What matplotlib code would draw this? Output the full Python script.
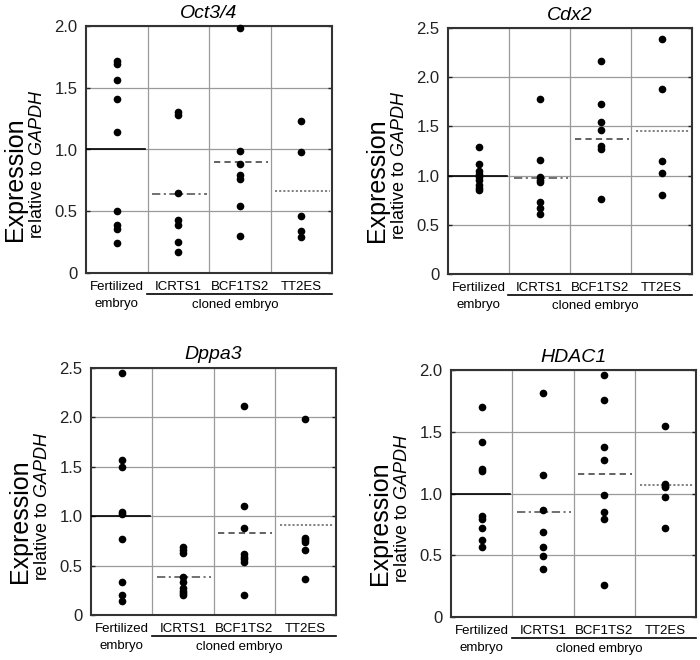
import matplotlib
matplotlib.use("Agg")
import matplotlib.pyplot as plt

plt.rcParams['font.family'] = ['Liberation Sans', 'DejaVu Sans']
plt.rcParams['mathtext.fontset'] = 'custom'
plt.rcParams['mathtext.rm'] = 'Liberation Sans'
plt.rcParams['mathtext.it'] = 'Liberation Sans:italic'
plt.rcParams['lines.scale_dashes'] = False

groups = ['Fertilized', 'ICRTS1', 'BCF1TS2', 'TT2ES']
genes = ['Oct3/4', 'Cdx2', 'Dppa3', 'HDAC1']
ytops = [2.0, 2.5, 2.5, 2.0]

# expression values per group (Fertilized, ICRTS1, BCF1TS2, TT2ES)
oct34 = [
    [1.72, 1.69, 1.56, 1.41, 1.14, 0.50, 0.39, 0.36, 0.24],
    [1.30, 1.28, 0.65, 0.43, 0.39, 0.25, 0.17],
    [1.98, 0.99, 0.88, 0.79, 0.76, 0.54, 0.30],
    [1.23, 0.98, 0.46, 0.34, 0.29],
]
oct34_mean = [1.0, 0.64, 0.90, 0.66]

cdx2 = [
    [1.29, 1.12, 1.05, 1.02, 0.99, 0.96, 0.90, 0.87, 0.85],
    [1.78, 1.16, 0.99, 0.96, 0.93, 0.73, 0.67, 0.61],
    [2.16, 1.73, 1.54, 1.46, 1.30, 1.27, 0.76],
    [2.39, 1.88, 1.15, 1.03, 0.80],
]
cdx2_mean = [1.0, 0.98, 1.37, 1.45]

dppa3 = [
    [2.45, 1.57, 1.50, 1.04, 1.02, 0.77, 0.33, 0.20, 0.14],
    [0.69, 0.66, 0.63, 0.38, 0.33, 0.27, 0.24, 0.22, 0.20],
    [2.12, 1.10, 0.88, 0.62, 0.59, 0.57, 0.54, 0.20],
    [1.98, 0.78, 0.76, 0.74, 0.66, 0.36],
]
dppa3_mean = [1.0, 0.38, 0.83, 0.91]

hdac1 = [
    [1.70, 1.42, 1.20, 1.18, 0.82, 0.79, 0.72, 0.62, 0.57],
    [1.81, 1.15, 0.87, 0.69, 0.57, 0.49, 0.39],
    [1.96, 1.76, 1.38, 1.27, 0.99, 0.85, 0.79, 0.26],
    [1.55, 1.08, 1.06, 1.05, 0.97, 0.72],
]
hdac1_mean = [1.0, 0.85, 1.16, 1.07]

all_vals = [oct34, cdx2, dppa3, hdac1]
all_means = [oct34_mean, cdx2_mean, dppa3_mean, hdac1_mean]

line_styles = [
    dict(color='black', ls='-', lw=1.2),
    dict(color='#666666', ls=(0, (6, 2.5, 1.5, 2.5)), lw=1.3),
    dict(color='#555555', ls=(0, (4.5, 3)), lw=1.3),
    dict(color='#777777', ls=(0, (1.5, 1.5)), lw=1.3),
]

fig = plt.figure(figsize=(7, 6.6), dpi=100)
W, H = 700, 660
boxes = [(86, 273, 246, 247), (448, 274, 244, 246), (91, 615, 245, 247), (451, 617, 245, 247)]

for k in range(4):
    x0, yb, w, h = boxes[k]
    ax = fig.add_axes([x0 / W, 1 - yb / H, w / W, h / H])
    vals = all_vals[k]
    means = all_means[k]
    for i in range(4):
        ax.plot([i] * len(vals[i]), vals[i], 'o', color='black', ms=4.5, clip_on=False, zorder=4)
        lo = -0.5 if i == 0 else i - 0.42
        hi = 0.46 if i == 0 else i + 0.46
        ax.plot([lo, hi], [means[i], means[i]], zorder=3, **line_styles[i])

    ax.set_xlim(-0.5, 3.5)
    ax.set_ylim(0, ytops[k])
    yt = [0, 0.5, 1.0, 1.5, 2.0] + ([2.5] if ytops[k] > 2.2 else [])
    ax.set_yticks(yt)
    ax.set_yticklabels(['0'] + ['%.1f' % v for v in yt[1:]])
    ax.set_xticks([])
    ax.set_xticks([0.5, 1.5, 2.5], minor=True)
    ax.grid(True, axis='y', which='major', color='#9a9a9a', lw=0.9)
    ax.grid(True, axis='x', which='minor', color='#9a9a9a', lw=0.9)
    ax.tick_params(axis='y', direction='in', length=3, width=1, left=True, right=True,
                   labelsize=12, pad=6, colors='#222222')
    ax.tick_params(axis='x', which='minor', length=0)
    for s in ax.spines.values():
        s.set_color('#333333')
        s.set_linewidth(1.5)

    ax.text(0.5, 1 + 13 / h, genes[k], transform=ax.transAxes, ha='center', va='center',
            fontsize=14, style='italic')
    ax.text(-0.29, 0.38, 'Expression', transform=ax.transAxes, rotation=90,
            ha='center', va='center', fontsize=18)
    ax.text(-0.198, 0.44, r'relative to $\it{GAPDH}$', transform=ax.transAxes, rotation=90,
            ha='center', va='center', fontsize=13)

    tr = ax.get_xaxis_transform()
    ax.text(0, -14 / h, groups[0], transform=tr, ha='center', va='center', fontsize=9.5)
    ax.text(0, -31 / h, 'embryo', transform=tr, ha='center', va='center', fontsize=9.5)
    for i in range(1, 4):
        ax.text(i, -14 / h, groups[i], transform=tr, ha='center', va='center', fontsize=9.5)
    ax.plot([0.49, 3.5], [-21 / h, -21 / h], transform=tr, color='black', lw=1.2, clip_on=False)
    ax.text(1.92, -32 / h, 'cloned embryo', transform=tr, ha='center', va='center', fontsize=9.5)

fig.savefig('out.png', dpi=100)
